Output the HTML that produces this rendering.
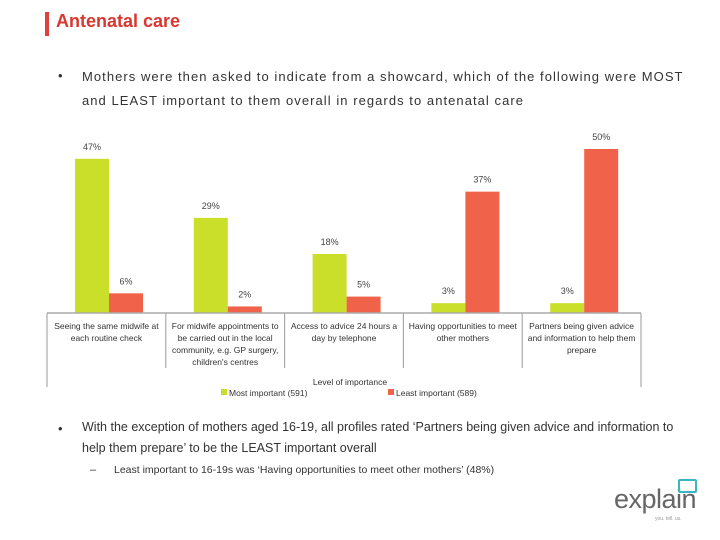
<!DOCTYPE html>
<html><head><meta charset="utf-8"><style>
body{margin:0;width:720px;height:540px;background:#fff;font-family:"Liberation Sans",sans-serif;overflow:hidden;position:relative}
.t{position:absolute;white-space:nowrap}
</style></head><body>
<div style="position:absolute;left:45px;top:12px;width:4px;height:24px;background:#e0413a"></div>
<div class="t" style="left:56px;top:11px;font-size:18px;font-weight:bold;color:#d9362f">Antenatal care</div>
<div class="t" style="left:58px;top:68px;font-size:13px;color:#333">•</div>
<div class="t" style="left:82px;top:65px;font-size:13px;color:#333;line-height:24px;letter-spacing:1.05px">Mothers were then asked to indicate from a showcard, which of the following were MOST<br>and LEAST important to them overall in regards to antenatal care</div>
<svg id="chart" width="720" height="540" style="position:absolute;left:0;top:0" font-family="Liberation Sans, sans-serif"></svg>
<div class="t" style="left:58px;top:421px;font-size:13px;color:#333">•</div>
<div class="t" style="left:82px;top:417px;font-size:12.5px;color:#333;line-height:21px;white-space:normal;width:615px">With the exception of mothers aged 16-19, all profiles rated ‘Partners being given advice and information to help them prepare’ to be the LEAST important overall</div>
<div class="t" style="left:90px;top:464px;font-size:11px;color:#333">–</div>
<div class="t" style="left:114px;top:464px;font-size:10.5px;color:#333">Least important to 16-19s was ‘Having opportunities to meet other mothers’ (48%)</div>
<div class="t" style="left:614px;top:484px;font-size:27px;color:#666;letter-spacing:-0.5px">explain</div>
<div style="position:absolute;left:678px;top:479px;width:15px;height:10px;border:2px solid #3ab5c6;border-radius:2px"></div>
<div class="t" style="left:655px;top:516px;font-size:5px;color:#999">you. tell. us.</div>
<script>
const categories=[["Seeing the same midwife at","each routine check"],["For midwife appointments to","be carried out in the local","community, e.g. GP surgery,","children's centres"],["Access to advice 24 hours a","day by telephone"],["Having opportunities to meet","other mothers"],["Partners being given advice","and information to help them","prepare"]];
const mostImportant=[47,29,18,3,3];
const leastImportant=[6,2,5,37,50];
const svg=document.getElementById('chart');
const NS='http://www.w3.org/2000/svg';
const x0=47,catW=118.8,base=313,scale=3.28;
function y(v){return base-v*scale;}
function mk(t,a,name){const e=document.createElementNS(NS,t);for(const k in a)e.setAttribute(k,a[k]);


svg.appendChild(e);return e;}
categories.forEach((c,i)=>{
  const cx=x0+i*catW;
  [[mostImportant[i],'#c9df2a',28,'green'],[leastImportant[i],'#f0634a',62,'red']].forEach(([v,col,off,nm])=>{
    mk('rect',{x:cx+off,y:y(v),width:34,height:v*scale,fill:col},'bar-'+nm+'-'+i);
    const t=mk('text',{x:cx+off+17,y:y(v)-9,'font-size':9,fill:'#444','text-anchor':'middle'},'value-label-'+nm+'-'+i);t.textContent=v+'%';
  });
  c.forEach((l,j)=>{const t=mk('text',{x:cx+catW/2,y:329+j*12,'font-size':8.5,fill:'#333','text-anchor':'middle'},'category-label-'+i);t.textContent=l;});
});
mk('line',{x1:x0,y1:base,x2:x0+5*catW,y2:base,stroke:'#aaa','stroke-width':1.5},'x-axis');
for(let i=0;i<=5;i++){const outer=i==0||i==5;mk('line',{x1:x0+i*catW,y1:base,x2:x0+i*catW,y2:outer?387:368,stroke:'#aaa','stroke-width':1.2},'category-divider');}
let t=mk('text',{x:350,y:385,'font-size':8.5,fill:'#333','text-anchor':'middle'},'legend-title');t.textContent='Level of importance';
mk('rect',{x:221,y:389,width:6,height:6,fill:'#c9df2a'},'legend-swatch-most');
t=mk('text',{x:229,y:396,'font-size':8.5,fill:'#333'},'legend-entry-most');t.textContent='Most important (591)';
mk('rect',{x:388,y:389,width:6,height:6,fill:'#f0634a'},'legend-swatch-least');
t=mk('text',{x:396,y:396,'font-size':8.5,fill:'#333'},'legend-entry-least');t.textContent='Least important (589)';
</script>
</body></html>
